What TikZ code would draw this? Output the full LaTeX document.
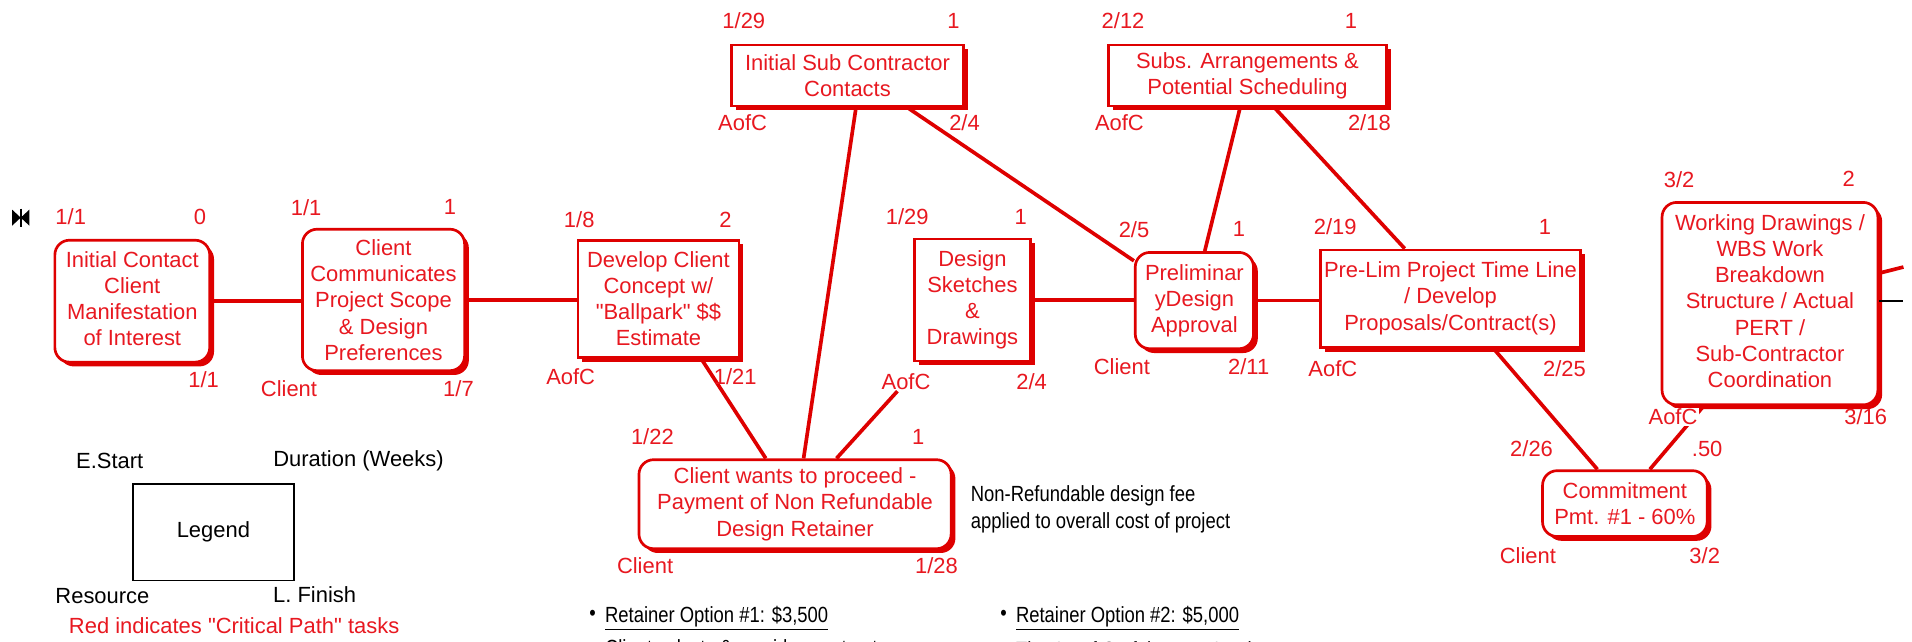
\documentclass[tikz,border=0pt]{standalone}
\usepackage{fontspec}
\setmainfont{Liberation Sans}
\newfontfamily\narrowfont{Liberation Sans}[FakeStretch=0.84]
\usetikzlibrary{shadows,calc}
\definecolor{critred}{RGB}{222,0,0}
\definecolor{txtred}{RGB}{232,24,32}
\newcommand{\liftlines}[2]{\raisebox{#1}{\begin{tabular}{@{}c@{}}#2\end{tabular}}}
\begin{document}
\begin{tikzpicture}[x=1pt,y=-1pt,
  every node/.style={font=\fontsize{18}{21.5}\selectfont},
  task/.style={draw=critred, line width=2.2pt, fill=white, text=txtred, align=center, inner sep=0pt,
    drop shadow={shadow xshift=3.5pt, shadow yshift=-3.5pt, fill=critred, opacity=1}},
  roundtask/.style={task, rounded corners=12pt},
  sqtask/.style={task},
  lab/.style={text=txtred, inner sep=1pt},
  blk/.style={text=black, inner sep=1pt},
  narrow/.style={text=black, inner sep=0pt, font=\narrowfont\fontsize{18}{22}\selectfont},
  link/.style={draw=critred, line width=3pt},
]
\useasboundingbox (0,0) rectangle (1568,526);
\fill[white] (0,0) rectangle (1568,526);

% start icon
\fill (10,172) -- (10,185) -- (17,178.5) -- cycle;
\fill (24,172) -- (24,185) -- (17,178.5) -- cycle;
\draw[line width=1.5pt] (17,171) -- (17,186);

% tasks
\node[roundtask, minimum width=127pt, minimum height=100pt] (n1) at (108.5,247) {\liftlines{3pt}{Initial Contact\\Client\\Manifestation\\of Interest}};
\node[roundtask, minimum width=133pt, minimum height=116pt] (n2) at (314.5,246) {Client\\Communicates\\Project Scope\\\& Design\\Preferences};
\node[sqtask, minimum width=132pt, minimum height=96pt] (n3) at (540,245) {Develop Client\\Concept w/\\\textquotedbl Ballpark\textquotedbl{} \$\$\\Estimate};
\node[sqtask, minimum width=95pt, minimum height=100pt] (n4) at (797.5,246) {Design\\Sketches\\\&\\Drawings};
\node[roundtask, minimum width=256pt, minimum height=73pt] (n5) at (652,413.5) {Client wants to proceed -\\Payment of Non Refundable\\Design Retainer};
\node[sqtask, minimum width=190pt, minimum height=50pt] (n6) at (695,62) {Initial Sub Contractor\\Contacts};
\node[sqtask, minimum width=228pt, minimum height=50pt] (n7) at (1023,62) {Subs. Arrangements \&\\Potential Scheduling};
\node[roundtask, minimum width=97pt, minimum height=79pt] (n8) at (979.5,246.5) {Preliminar\\yDesign\\Approval};
\node[sqtask, minimum width=213pt, minimum height=80pt] (n9) at (1189.5,245) {\liftlines{2pt}{Pre-Lim Project Time Line\\/ Develop\\Proposals/Contract(s)}};
\node[roundtask, minimum width=135pt, minimum height=54pt] (n10) at (1332.5,413) {Commitment\\Pmt. \#1 - 60\%};
\node[roundtask, minimum width=177pt, minimum height=166pt] (n11) at (1451.5,249) {\liftlines{3pt}{Working Drawings /\\WBS Work\\Breakdown\\Structure / Actual\\PERT /\\Sub-Contractor\\Coordination}};

% label used as connector end
\node[lab] (a4) at (743,313) {AofC};

% connectors
\draw[link] (n1.east) -- (n1.east -| n2.west);
\draw[link] (n2.east) -- (n2.east -| n3.west);
\draw[link] (n4.east) -- (n4.east -| n8.west);
\draw[link] (n8.east) -- (n8.east -| n9.west);
\draw[link] ([xshift=35pt]n3.south) -- ([xshift=-24pt]n5.north);
\draw[link] ([xshift=7pt]n6.south) -- ([xshift=7pt]n5.north);
\draw[link] ([xshift=34pt]n5.north) -- (a4);
\draw[link] ([xshift=49pt]n6.south) -- ([yshift=-8pt]n8.north west);
\draw[link] ([xshift=-6pt]n7.south) -- ([xshift=8.5pt]n8.north);
\draw[link] ([xshift=22pt]n7.south) -- ([xshift=-37.5pt]n9.north);
\draw[link] ([xshift=35.5pt]n9.south) -- ([xshift=-22.5pt]n10.north);
\draw[link] ([xshift=20.5pt]n10.north) -- ([xshift=-54.5pt]n11.south);
\coordinate (rEnd) at (1561,219);
\coordinate (bEnd) at (1561,247);
\draw[link] ([yshift=25pt]n11.east) -- (rEnd);
\draw[black, line width=1.3pt] ([yshift=2pt]n11.east) -- (bEnd);

% labels
\node[lab] (s1) at (58,178) {1/1};
\node[lab] (d1) at (164,178) {0};
\node[lab] (f1) at (167,311) {1/1};
\node[lab] (s2) at (251,170) {1/1};
\node[lab] (d2) at (369,170) {1};
\node[lab] (r2) at (237,319) {Client};
\node[lab] (f2) at (376,319) {1/7};
\node[lab] (s3) at (475,180) {1/8};
\node[lab] (d3) at (595,180) {2};
\node[lab] (r3) at (468,309) {AofC};
\node[lab] (f3) at (603,309) {1/21};
\node[lab] (s4) at (744,178) {1/29};
\node[lab] (d4) at (837,178) {1};
\node[lab] (f4) at (846,313) {2/4};
\node[lab] (s5) at (535,358) {1/22};
\node[lab] (d5) at (753,358) {1};
\node[lab] (r5) at (529,464) {Client};
\node[lab] (f5) at (768,464) {1/28};
\node[lab] (s6) at (610,17) {1/29};
\node[lab] (d6) at (782,17) {1};
\node[lab] (r6) at (609,101) {AofC};
\node[lab] (f6) at (791,101) {2/4};
\node[lab] (s7) at (921,17) {2/12};
\node[lab] (d7) at (1108,17) {1};
\node[lab] (r7) at (918,101) {AofC};
\node[lab] (f7) at (1123,101) {2/18};
\node[lab] (s8) at (930,188) {2/5};
\node[lab] (d8) at (1016,188) {1};
\node[lab] (r8) at (920,301) {Client};
\node[lab] (f8) at (1024,301) {2/11};
\node[lab] (s9) at (1095,186) {2/19};
\node[lab] (d9) at (1267,186) {1};
\node[lab] (r9) at (1093,302) {AofC};
\node[lab] (f9) at (1283,302) {2/25};
\node[lab] (s10) at (1256,368) {2/26};
\node[lab] (d10) at (1400,368) {.50};
\node[lab] (r10) at (1253,456) {Client};
\node[lab] (f10) at (1398,456) {3/2};
\node[lab] (s11) at (1377,147) {3/2};
\node[lab] (d11) at (1516,147) {2};
\node[lab, fill=white] (r11) at (1372,342) {AofC};
\node[lab] (f11) at (1530,342) {3/16};

% legend
\node[draw=black, line width=1.5pt, minimum width=132pt, minimum height=79pt, inner sep=0pt] (leg) at (175,436.5) {Legend};
\node[blk] (le1) at (90,378) {E.Start};
\node[blk] (le2) at (294,378) {Duration (Weeks)};
\node[blk] (le3) at (84,489) {Resource};
\node[blk] (le4) at (258,488) {L. Finish};
\node[lab] (le5) at (192,513) {Red indicates \textquotedbl Critical Path\textquotedbl{} tasks};

% notes
\node[narrow, anchor=west, align=left] (note) at (796,418) {Non-Refundable design fee\\applied to overall cost of project};
\node[narrow] (bul1) at (486,505) {\textbullet};
\node[narrow, anchor=west] (opt1) at (496,507) {\underline{Retainer Option \#1: \$3,500}};
\node[narrow, anchor=west] (opt1b) at (496,533) {Client selects \& provides contractors};
\node[narrow] (bul2) at (823,505) {\textbullet};
\node[narrow, anchor=west] (opt2) at (833,507) {\underline{Retainer Option \#2: \$5,000}};
\node[narrow, anchor=west] (opt2b) at (833,533) {The Art of Craft locates \& selects};
\end{tikzpicture}
\end{document}
